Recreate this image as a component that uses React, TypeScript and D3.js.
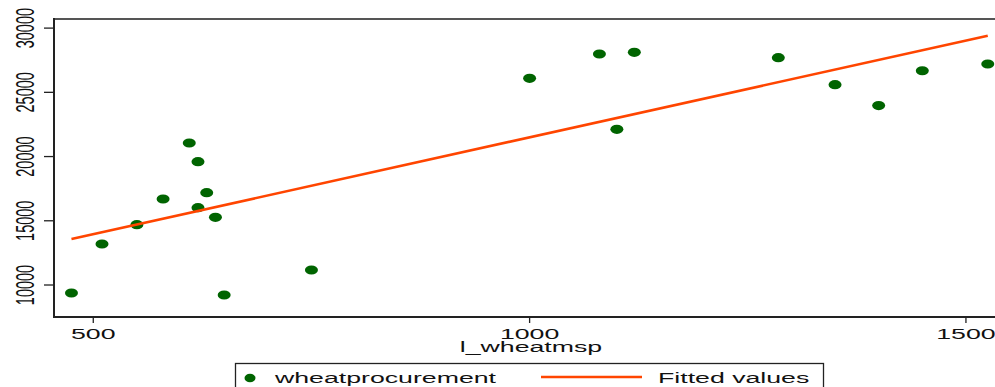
import React from "react";
import * as d3 from "d3";

// Wheat minimum support price (Rs/quintal) and wheat procurement, by year
const mspValues = [475, 510, 550, 580, 610, 620, 630, 620, 640, 650, 750, 1000, 1080, 1120, 1100, 1285, 1350, 1400, 1450, 1525];
const procurementValues = [9377, 13192, 14694, 16695, 21055, 19599, 17186, 16018, 15271, 9222, 11168, 26092, 27984, 28114, 22121, 27696, 25598, 23970, 26679, 27204];
const xTicks = [500, 1000, 1500];
const yTicks = [10000, 15000, 20000, 25000, 30000];
const legendLabels = ["wheatprocurement", "Fitted values"];
const axisTitle = "l_wheatmsp";

const W = 995;
const H = 387;
const left = 54;
const right = 995;
const top = 19;
const bottom = 317;
const stretch = 1.78;
const font = "'Liberation Sans', Arial, Helvetica, sans-serif";
const dotColor = "#006400";
const lineColor = "#ff4500";

export default function App() {
  const x = d3.scaleLinear().domain([455, 1533.3]).range([left, right]);
  const y = d3.scaleLinear().domain([7509, 30709]).range([bottom, top]);

  // Ordinary least squares fit of procurement on MSP
  const mx = d3.mean(mspValues) as number;
  const my = d3.mean(procurementValues) as number;
  let sxy = 0;
  let sxx = 0;
  mspValues.forEach((v, i) => {
    sxy += (v - mx) * (procurementValues[i] - my);
    sxx += (v - mx) * (v - mx);
  });
  const slope = sxy / sxx;
  const fit = (v: number) => my + slope * (v - mx);
  const xMin = d3.min(mspValues) as number;
  const xMax = d3.max(mspValues) as number;
  const fitLine = d3.line<number>().x((v) => x(v)).y((v) => y(fit(v)))([xMin, xMax]) as string;

  return (
    <svg width={W} height={H} style={{ position: "absolute", left: 0, top: 0, background: "#fff" }}>
      <rect x={0} y={0} width={W} height={H} fill="#fff" />
      {/* frame */}
      <line x1={left} x2={W} y1={top} y2={top} stroke="#555" strokeWidth={2} />
      <line x1={left} x2={left} y1={top - 1} y2={bottom + 1} stroke="#222" strokeWidth={2} />
      <line x1={left - 1} x2={W} y1={bottom} y2={bottom} stroke="#222" strokeWidth={2} />

      {/* y axis */}
      {yTicks.map((t) => (
        <g key={t}>
          <line x1={left - 10} x2={left} y1={y(t)} y2={y(t)} stroke="#222" strokeWidth={1.3} />
          <text
            transform={`translate(34,${y(t)}) scale(${stretch},1) rotate(-90)`}
            textAnchor="middle"
            fontFamily={font}
            fontSize={14.5}
            fill="#111"
          >
            {t}
          </text>
        </g>
      ))}

      {/* x axis */}
      {xTicks.map((t) => (
        <g key={t}>
          <line x1={x(t)} x2={x(t)} y1={bottom} y2={bottom + 6} stroke="#222" strokeWidth={1.3} />
          <text
            transform={`translate(${x(t)},339) scale(${stretch},1)`}
            textAnchor="middle"
            fontFamily={font}
            fontSize={15}
            fill="#111"
          >
            {t}
          </text>
        </g>
      ))}
      <text
        transform={`translate(531,352) scale(${stretch},1)`}
        textAnchor="middle"
        fontFamily={font}
        fontSize={15}
        fill="#111"
      >
        {axisTitle}
      </text>

      {/* observations */}
      {mspValues.map((v, i) => (
        <ellipse key={i} cx={x(v)} cy={y(procurementValues[i])} rx={6.5} ry={4.6} fill={dotColor} />
      ))}

      {/* fitted line */}
      <path d={fitLine} fill="none" stroke={lineColor} strokeWidth={2.6} />

      {/* legend */}
      <rect x={235.5} y={363.5} width={588} height={40} fill="#fff" stroke="#222" strokeWidth={1.3} />
      <ellipse cx={250} cy={378} rx={5.5} ry={4.3} fill={dotColor} />
      <text
        transform={`translate(275,383) scale(${stretch},1)`}
        fontFamily={font}
        fontSize={15}
        fill="#111"
      >
        {legendLabels[0]}
      </text>
      <line x1={541} x2={642} y1={377} y2={377} stroke={lineColor} strokeWidth={2.6} />
      <text
        transform={`translate(658,383) scale(${stretch},1)`}
        fontFamily={font}
        fontSize={15}
        fill="#111"
      >
        {legendLabels[1]}
      </text>
    </svg>
  );
}
